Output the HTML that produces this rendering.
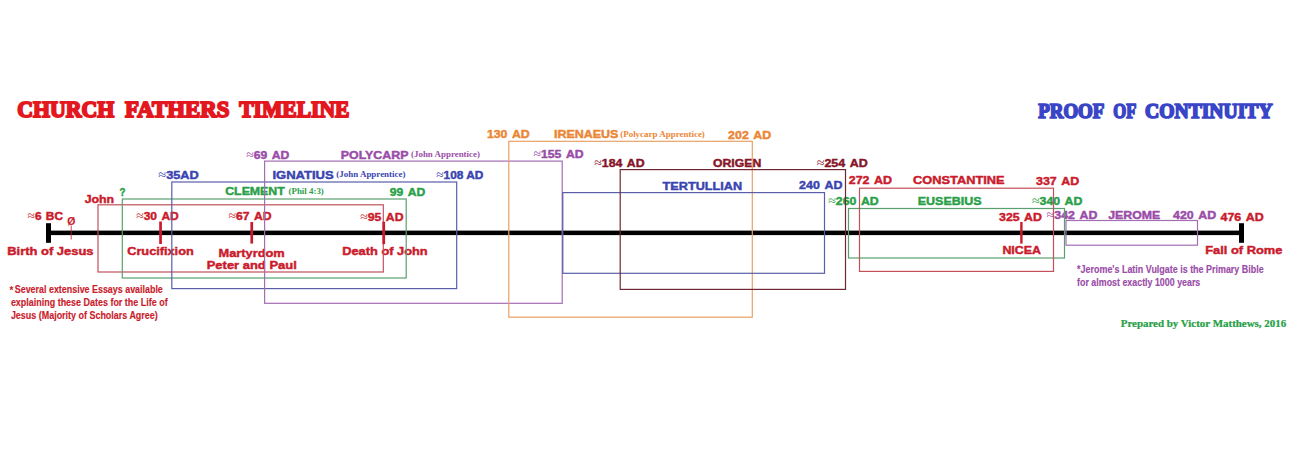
<!DOCTYPE html><html><head><meta charset="utf-8"><title>Church Fathers Timeline</title><style>html,body{margin:0;padding:0;background:#fff;}body{width:1296px;height:468px;overflow:hidden;}svg{display:block;}text{white-space:pre;}</style></head><body>
<svg width="1296" height="468" viewBox="0 0 1296 468">
<rect width="1296" height="468" fill="#fff"/>
<g fill="#000"><rect x="46" y="230.6" width="1198" height="4.5"/><rect x="46" y="223.2" width="5" height="19.6"/><rect x="1239" y="223.2" width="5" height="19.6"/></g>
<text transform="matrix(1.0323 0 0 1 27.53 220.07)" font-family="'Liberation Sans', Arial, sans-serif" font-size="11.5" font-weight="bold" fill="#ca1b2c" stroke="#ca1b2c" stroke-width="0.45" stroke-linejoin="round"><tspan font-family="'Liberation Serif', serif" font-weight="normal" font-size="12.99" stroke-width="0">≈</tspan>6 <tspan dx="1.0">BC</tspan></text>
<text transform="matrix(0.9951 0 0 1 67.28 225.23)" font-family="'Liberation Sans', Arial, sans-serif" font-size="10.5" font-weight="bold" fill="#ca1b2c" stroke="#ca1b2c" stroke-width="0.15" stroke-linejoin="round">Ø</text>
<text transform="matrix(1.1257 0 0 1 7.22 254.58)" font-family="'Liberation Sans', Arial, sans-serif" font-size="11.5" font-weight="bold" fill="#ca1b2c" stroke="#ca1b2c" stroke-width="0.45" stroke-linejoin="round">Birth of Jesus</text>
<text transform="matrix(1.0715 0 0 1 84.72 202.97)" font-family="'Liberation Sans', Arial, sans-serif" font-size="11.5" font-weight="bold" fill="#ca1b2c" stroke="#ca1b2c" stroke-width="0.45" stroke-linejoin="round">John</text>
<text transform="matrix(1.0445 0 0 1 136.22 220.07)" font-family="'Liberation Sans', Arial, sans-serif" font-size="11.5" font-weight="bold" fill="#ca1b2c" stroke="#ca1b2c" stroke-width="0.45" stroke-linejoin="round"><tspan font-family="'Liberation Serif', serif" font-weight="normal" font-size="12.99" stroke-width="0">≈</tspan>30 <tspan dx="1.0">AD</tspan></text>
<text transform="matrix(1.1076 0 0 1 127.22 255.18)" font-family="'Liberation Sans', Arial, sans-serif" font-size="11.5" font-weight="bold" fill="#ca1b2c" stroke="#ca1b2c" stroke-width="0.45" stroke-linejoin="round">Crucifixion</text>
<text transform="matrix(1.0593 0 0 1 228.42 220.07)" font-family="'Liberation Sans', Arial, sans-serif" font-size="11.5" font-weight="bold" fill="#ca1b2c" stroke="#ca1b2c" stroke-width="0.45" stroke-linejoin="round"><tspan font-family="'Liberation Serif', serif" font-weight="normal" font-size="12.99" stroke-width="0">≈</tspan>67 <tspan dx="1.0">AD</tspan></text>
<text transform="matrix(1.1143 0 0 1 218.53 257.38)" font-family="'Liberation Sans', Arial, sans-serif" font-size="11.5" font-weight="bold" fill="#ca1b2c" stroke="#ca1b2c" stroke-width="0.45" stroke-linejoin="round">Martyrdom</text>
<text transform="matrix(1.1275 0 0 1 206.72 269.07)" font-family="'Liberation Sans', Arial, sans-serif" font-size="11.5" font-weight="bold" fill="#ca1b2c" stroke="#ca1b2c" stroke-width="0.45" stroke-linejoin="round">Peter and Paul</text>
<text transform="matrix(1.0617 0 0 1 360.23 220.57)" font-family="'Liberation Sans', Arial, sans-serif" font-size="11.5" font-weight="bold" fill="#ca1b2c" stroke="#ca1b2c" stroke-width="0.45" stroke-linejoin="round"><tspan font-family="'Liberation Serif', serif" font-weight="normal" font-size="12.99" stroke-width="0">≈</tspan>95 <tspan dx="1.0">AD</tspan></text>
<text transform="matrix(1.1161 0 0 1 342.23 255.18)" font-family="'Liberation Sans', Arial, sans-serif" font-size="11.5" font-weight="bold" fill="#ca1b2c" stroke="#ca1b2c" stroke-width="0.45" stroke-linejoin="round">Death of John</text>
<text transform="matrix(1.0862 0 0 1 848.73 183.57)" font-family="'Liberation Sans', Arial, sans-serif" font-size="11.5" font-weight="bold" fill="#ca1b2c" stroke="#ca1b2c" stroke-width="0.45" stroke-linejoin="round">272 <tspan dx="1.0">AD</tspan></text>
<text transform="matrix(1.1158 0 0 1 913.02 184.07)" font-family="'Liberation Sans', Arial, sans-serif" font-size="11.5" font-weight="bold" fill="#ca1b2c" stroke="#ca1b2c" stroke-width="0.45" stroke-linejoin="round">CONSTANTINE</text>
<text transform="matrix(1.0812 0 0 1 1036.02 185.38)" font-family="'Liberation Sans', Arial, sans-serif" font-size="11.5" font-weight="bold" fill="#ca1b2c" stroke="#ca1b2c" stroke-width="0.45" stroke-linejoin="round">337 <tspan dx="1.0">AD</tspan></text>
<text transform="matrix(1.0737 0 0 1 999.02 220.57)" font-family="'Liberation Sans', Arial, sans-serif" font-size="11.5" font-weight="bold" fill="#ca1b2c" stroke="#ca1b2c" stroke-width="0.45" stroke-linejoin="round">325 <tspan dx="1.0">AD</tspan></text>
<text transform="matrix(1.0779 0 0 1 1002.43 253.68)" font-family="'Liberation Sans', Arial, sans-serif" font-size="11.5" font-weight="bold" fill="#ca1b2c" stroke="#ca1b2c" stroke-width="0.45" stroke-linejoin="round">NICEA</text>
<text transform="matrix(1.0812 0 0 1 1220.52 221.18)" font-family="'Liberation Sans', Arial, sans-serif" font-size="11.5" font-weight="bold" fill="#ca1b2c" stroke="#ca1b2c" stroke-width="0.45" stroke-linejoin="round">476 <tspan dx="1.0">AD</tspan></text>
<text transform="matrix(1.1196 0 0 1 1205.22 253.97)" font-family="'Liberation Sans', Arial, sans-serif" font-size="11.5" font-weight="bold" fill="#ca1b2c" stroke="#ca1b2c" stroke-width="0.45" stroke-linejoin="round">Fall of Rome</text>
<text transform="matrix(0.8482 0 0 1 119.52 196.18)" font-family="'Liberation Sans', Arial, sans-serif" font-size="11.5" font-weight="bold" fill="#2a9f48" stroke="#2a9f48" stroke-width="0.45" stroke-linejoin="round">?</text>
<text transform="matrix(1.0710 0 0 1 225.22 194.88)" font-family="'Liberation Sans', Arial, sans-serif" font-size="11.5" font-weight="bold" fill="#2a9f48" stroke="#2a9f48" stroke-width="0.45" stroke-linejoin="round">CLEMENT</text>
<text transform="matrix(0.9880 0 0 1 288.50 193.80)" font-family="'Liberation Serif', 'Times New Roman', serif" font-size="9" font-weight="bold" fill="#2a9f48">(Phil 4:3)</text>
<text transform="matrix(1.0549 0 0 1 389.83 196.38)" font-family="'Liberation Sans', Arial, sans-serif" font-size="11.5" font-weight="bold" fill="#2a9f48" stroke="#2a9f48" stroke-width="0.45" stroke-linejoin="round">99 <tspan dx="1.0">AD</tspan></text>
<text transform="matrix(1.0704 0 0 1 828.23 205.38)" font-family="'Liberation Sans', Arial, sans-serif" font-size="11.5" font-weight="bold" fill="#2a9f48" stroke="#2a9f48" stroke-width="0.45" stroke-linejoin="round"><tspan font-family="'Liberation Serif', serif" font-weight="normal" font-size="12.99" stroke-width="0">≈</tspan>260 <tspan dx="1.0">AD</tspan></text>
<text transform="matrix(1.0855 0 0 1 917.73 205.18)" font-family="'Liberation Sans', Arial, sans-serif" font-size="11.5" font-weight="bold" fill="#2a9f48" stroke="#2a9f48" stroke-width="0.45" stroke-linejoin="round">EUSEBIUS</text>
<text transform="matrix(1.0704 0 0 1 1031.92 205.18)" font-family="'Liberation Sans', Arial, sans-serif" font-size="11.5" font-weight="bold" fill="#2a9f48" stroke="#2a9f48" stroke-width="0.45" stroke-linejoin="round"><tspan font-family="'Liberation Serif', serif" font-weight="normal" font-size="12.99" stroke-width="0">≈</tspan>340 <tspan dx="1.0">AD</tspan></text>
<text transform="matrix(1.1105 0 0 1 158.22 179.07)" font-family="'Liberation Sans', Arial, sans-serif" font-size="11.5" font-weight="bold" fill="#3a44b0" stroke="#3a44b0" stroke-width="0.45" stroke-linejoin="round"><tspan font-family="'Liberation Serif', serif" font-weight="normal" font-size="12.99" stroke-width="0">≈</tspan>35AD</text>
<text transform="matrix(1.1339 0 0 1 272.43 178.57)" font-family="'Liberation Sans', Arial, sans-serif" font-size="11.5" font-weight="bold" fill="#3a44b0" stroke="#3a44b0" stroke-width="0.45" stroke-linejoin="round">IGNATIUS</text>
<text transform="matrix(0.9947 0 0 1 336.30 177.40)" font-family="'Liberation Serif', 'Times New Roman', serif" font-size="9" font-weight="bold" fill="#3a44b0">(John Apprentice)</text>
<text transform="matrix(1.0314 0 0 1 436.23 178.88)" font-family="'Liberation Sans', Arial, sans-serif" font-size="11.5" font-weight="bold" fill="#3a44b0" stroke="#3a44b0" stroke-width="0.45" stroke-linejoin="round"><tspan font-family="'Liberation Serif', serif" font-weight="normal" font-size="12.99" stroke-width="0">≈</tspan>108 AD</text>
<text transform="matrix(1.1024 0 0 1 662.62 189.57)" font-family="'Liberation Sans', Arial, sans-serif" font-size="11.5" font-weight="bold" fill="#3a44b0" stroke="#3a44b0" stroke-width="0.45" stroke-linejoin="round">TERTULLIAN</text>
<text transform="matrix(1.0837 0 0 1 799.12 188.97)" font-family="'Liberation Sans', Arial, sans-serif" font-size="11.5" font-weight="bold" fill="#3a44b0" stroke="#3a44b0" stroke-width="0.45" stroke-linejoin="round">240 <tspan dx="1.0">AD</tspan></text>
<text transform="matrix(1.0568 0 0 1 246.22 158.97)" font-family="'Liberation Sans', Arial, sans-serif" font-size="11.5" font-weight="bold" fill="#9a4ca8" stroke="#9a4ca8" stroke-width="0.45" stroke-linejoin="round"><tspan font-family="'Liberation Serif', serif" font-weight="normal" font-size="12.99" stroke-width="0">≈</tspan>69 <tspan dx="1.0">AD</tspan></text>
<text transform="matrix(1.0796 0 0 1 340.73 158.57)" font-family="'Liberation Sans', Arial, sans-serif" font-size="11.5" font-weight="bold" fill="#9a4ca8" stroke="#9a4ca8" stroke-width="0.45" stroke-linejoin="round">POLYCARP</text>
<text transform="matrix(0.9918 0 0 1 411.00 157.20)" font-family="'Liberation Serif', 'Times New Roman', serif" font-size="9" font-weight="bold" fill="#9a4ca8">(John Apprentice)</text>
<text transform="matrix(1.0640 0 0 1 533.43 158.38)" font-family="'Liberation Sans', Arial, sans-serif" font-size="11.5" font-weight="bold" fill="#9a4ca8" stroke="#9a4ca8" stroke-width="0.45" stroke-linejoin="round"><tspan font-family="'Liberation Serif', serif" font-weight="normal" font-size="12.99" stroke-width="0">≈</tspan>155 <tspan dx="1.0">AD</tspan></text>
<text transform="matrix(1.0789 0 0 1 1046.62 218.97)" font-family="'Liberation Sans', Arial, sans-serif" font-size="11.5" font-weight="bold" fill="#9a4ca8" stroke="#9a4ca8" stroke-width="0.45" stroke-linejoin="round"><tspan font-family="'Liberation Serif', serif" font-weight="normal" font-size="12.99" stroke-width="0">≈</tspan>342 <tspan dx="1.0">AD</tspan></text>
<text transform="matrix(1.0713 0 0 1 1108.22 218.97)" font-family="'Liberation Sans', Arial, sans-serif" font-size="11.5" font-weight="bold" fill="#9a4ca8" stroke="#9a4ca8" stroke-width="0.45" stroke-linejoin="round">JEROME</text>
<text transform="matrix(1.0787 0 0 1 1173.02 218.97)" font-family="'Liberation Sans', Arial, sans-serif" font-size="11.5" font-weight="bold" fill="#9a4ca8" stroke="#9a4ca8" stroke-width="0.45" stroke-linejoin="round">420 <tspan dx="1.0">AD</tspan></text>
<text transform="matrix(1.0712 0 0 1 486.93 137.97)" font-family="'Liberation Sans', Arial, sans-serif" font-size="11.5" font-weight="bold" fill="#eb8634" stroke="#eb8634" stroke-width="0.45" stroke-linejoin="round">130 <tspan dx="1.0">AD</tspan></text>
<text transform="matrix(1.0857 0 0 1 553.93 138.38)" font-family="'Liberation Sans', Arial, sans-serif" font-size="11.5" font-weight="bold" fill="#eb8634" stroke="#eb8634" stroke-width="0.45" stroke-linejoin="round">IRENAEUS</text>
<text transform="matrix(0.9971 0 0 1 620.20 137.20)" font-family="'Liberation Serif', 'Times New Roman', serif" font-size="9" font-weight="bold" fill="#eb8634">(Polycarp Apprentice)</text>
<text transform="matrix(1.0787 0 0 1 728.12 138.68)" font-family="'Liberation Sans', Arial, sans-serif" font-size="11.5" font-weight="bold" fill="#eb8634" stroke="#eb8634" stroke-width="0.45" stroke-linejoin="round">202 <tspan dx="1.0">AD</tspan></text>
<text transform="matrix(1.0683 0 0 1 594.23 166.78)" font-family="'Liberation Sans', Arial, sans-serif" font-size="11.5" font-weight="bold" fill="#86152a" stroke="#86152a" stroke-width="0.45" stroke-linejoin="round"><tspan font-family="'Liberation Serif', serif" font-weight="normal" font-size="12.99" stroke-width="0">≈</tspan>184 <tspan dx="1.0">AD</tspan></text>
<text transform="matrix(1.0635 0 0 1 713.02 167.38)" font-family="'Liberation Sans', Arial, sans-serif" font-size="11.5" font-weight="bold" fill="#86152a" stroke="#86152a" stroke-width="0.45" stroke-linejoin="round">ORIGEN</text>
<text transform="matrix(1.0831 0 0 1 816.73 167.18)" font-family="'Liberation Sans', Arial, sans-serif" font-size="11.5" font-weight="bold" fill="#86152a" stroke="#86152a" stroke-width="0.45" stroke-linejoin="round"><tspan font-family="'Liberation Serif', serif" font-weight="normal" font-size="12.99" stroke-width="0">≈</tspan>254 <tspan dx="1.0">AD</tspan></text>
<text transform="matrix(0.9517 0 0 1 17.15 116.75)" font-family="'Liberation Serif', 'Times New Roman', serif" font-size="23.0" font-weight="bold" fill="#e3181f" stroke="#e3181f" stroke-width="1.9" stroke-linejoin="round">CHURCH</text>
<text transform="matrix(0.9931 0 0 1 124.95 116.75)" font-family="'Liberation Serif', 'Times New Roman', serif" font-size="23.0" font-weight="bold" fill="#e3181f" stroke="#e3181f" stroke-width="1.9" stroke-linejoin="round">FATHERS</text>
<text transform="matrix(0.9368 0 0 1 239.25 116.75)" font-family="'Liberation Serif', 'Times New Roman', serif" font-size="23.0" font-weight="bold" fill="#e3181f" stroke="#e3181f" stroke-width="1.9" stroke-linejoin="round">TIMELINE</text>
<text transform="matrix(0.9331 0 0 1 1038.15 117.85)" font-family="'Liberation Serif', 'Times New Roman', serif" font-size="20.3" font-weight="bold" fill="#3945c6" stroke="#3945c6" stroke-width="1.7" stroke-linejoin="round">PROOF</text>
<text transform="matrix(0.8187 0 0 1 1113.25 117.85)" font-family="'Liberation Serif', 'Times New Roman', serif" font-size="20.3" font-weight="bold" fill="#3945c6" stroke="#3945c6" stroke-width="1.7" stroke-linejoin="round">OF</text>
<text transform="matrix(0.9670 0 0 1 1145.05 117.85)" font-family="'Liberation Serif', 'Times New Roman', serif" font-size="20.3" font-weight="bold" fill="#3945c6" stroke="#3945c6" stroke-width="1.7" stroke-linejoin="round">CONTINUITY</text>
<text transform="matrix(1.0134 0 0 1 1120.72 327.18)" font-family="'Liberation Serif', 'Times New Roman', serif" font-size="10.8" font-weight="bold" fill="#2a9f48" stroke="#2a9f48" stroke-width="0.25" stroke-linejoin="round">Prepared by Victor Matthews, 2016</text>
<text transform="matrix(0.8652 0 0 1 14.77 292.93)" font-family="'Liberation Sans', Arial, sans-serif" font-size="10.3" font-weight="bold" fill="#ca1b2c" stroke="#ca1b2c" stroke-width="0.15" stroke-linejoin="round">Several extensive Essays available</text>
<text transform="matrix(0.8710 0 0 1 10.88 305.53)" font-family="'Liberation Sans', Arial, sans-serif" font-size="10.3" font-weight="bold" fill="#ca1b2c" stroke="#ca1b2c" stroke-width="0.15" stroke-linejoin="round">explaining these Dates for the Life of</text>
<text transform="matrix(0.8697 0 0 1 10.88 318.73)" font-family="'Liberation Sans', Arial, sans-serif" font-size="10.3" font-weight="bold" fill="#ca1b2c" stroke="#ca1b2c" stroke-width="0.15" stroke-linejoin="round">Jesus (Majority of Scholars Agree)</text>
<text transform="matrix(0.8681 0 0 1 1077.08 272.62)" font-family="'Liberation Sans', Arial, sans-serif" font-size="10.3" font-weight="bold" fill="#9a4ca8" stroke="#9a4ca8" stroke-width="0.15" stroke-linejoin="round">*Jerome's Latin Vulgate is the Primary Bible</text>
<text transform="matrix(0.8609 0 0 1 1077.08 285.53)" font-family="'Liberation Sans', Arial, sans-serif" font-size="10.3" font-weight="bold" fill="#9a4ca8" stroke="#9a4ca8" stroke-width="0.15" stroke-linejoin="round">for almost exactly 1000 years</text>
<text x="9.6" y="294" font-family="'Liberation Sans', Arial, sans-serif" font-size="10" font-weight="bold" fill="#ca1b2c">*</text>
<rect x="98.0" y="204.8" width="285.3" height="67.2" fill="none" stroke="#c4515a" stroke-width="1.2"/>
<rect x="122.3" y="199.0" width="283.9" height="79.0" fill="none" stroke="#59a06e" stroke-width="1.2"/>
<rect x="171.8" y="182.0" width="284.9" height="106.6" fill="none" stroke="#5a5ea8" stroke-width="1.2"/>
<rect x="264.6" y="161.1" width="297.6" height="142.2" fill="none" stroke="#a56db4" stroke-width="1.2"/>
<rect x="508.8" y="141.3" width="243.5" height="175.9" fill="none" stroke="#e8a166" stroke-width="1.2"/>
<rect x="562.8" y="192.6" width="261.7" height="80.7" fill="none" stroke="#5a5ea8" stroke-width="1.2"/>
<rect x="620.2" y="169.6" width="225.3" height="119.8" fill="none" stroke="#6e2834" stroke-width="1.2"/>
<rect x="848.5" y="208.5" width="216.0" height="49.5" fill="none" stroke="#59a06e" stroke-width="1.2"/>
<rect x="859.5" y="188.2" width="194.0" height="83.2" fill="none" stroke="#c4515a" stroke-width="1.2"/>
<rect x="1066.0" y="220.5" width="131.5" height="24.7" fill="none" stroke="#a56db4" stroke-width="1.2"/>
<rect x="159.2" y="221.5" width="2.7" height="22.5" fill="#ca1b2c"/>
<rect x="250.4" y="222" width="2.7" height="21.6" fill="#ca1b2c"/>
<rect x="382.4" y="221.7" width="2.7" height="22.5" fill="#ca1b2c"/>
<rect x="1020.2" y="222" width="2.4" height="21.6" fill="#ca1b2c"/>
<rect x="70.7" y="225.5" width="1" height="14" fill="#ca1b2c" opacity="0.8"/>
</svg></body></html>
